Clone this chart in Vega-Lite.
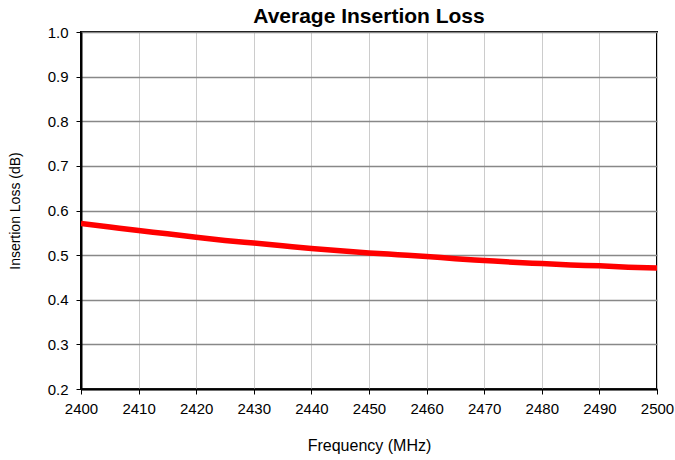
{
  "$schema": "https://vega.github.io/schema/vega-lite/v6.json",
  "width": 576,
  "height": 357,
  "autosize": {"type": "none"},
  "padding": {"left": 81, "top": 32, "right": 18, "bottom": 71},
  "background": "white",
  "title": {
    "text": "Average Insertion Loss",
    "font": "Liberation Sans",
    "fontSize": 21,
    "fontWeight": "bold",
    "color": "black",
    "offset": -2,
    "anchor": "middle"
  },
  "config": {
    "view": {"stroke": "black", "strokeWidth": 2},
    "axis": {
      "labelFont": "Liberation Sans",
      "titleFont": "Liberation Sans",
      "labelFontSize": 15,
      "titleFontSize": 16,
      "labelColor": "black",
      "titleColor": "black",
      "titleFontWeight": "normal",
      "domainColor": "black",
      "domainWidth": 2,
      "tickColor": "black",
      "tickWidth": 1,
      "tickSize": 5
    }
  },
  "data": {
    "values": [
      {"f": 2400, "il": 0.571},
      {"f": 2405, "il": 0.563},
      {"f": 2410, "il": 0.555},
      {"f": 2415, "il": 0.548},
      {"f": 2420, "il": 0.540},
      {"f": 2425, "il": 0.533},
      {"f": 2430, "il": 0.527},
      {"f": 2435, "il": 0.521},
      {"f": 2440, "il": 0.515},
      {"f": 2445, "il": 0.510},
      {"f": 2450, "il": 0.505},
      {"f": 2455, "il": 0.501},
      {"f": 2460, "il": 0.497},
      {"f": 2465, "il": 0.492},
      {"f": 2470, "il": 0.488},
      {"f": 2475, "il": 0.484},
      {"f": 2480, "il": 0.481},
      {"f": 2485, "il": 0.478},
      {"f": 2490, "il": 0.476},
      {"f": 2495, "il": 0.473},
      {"f": 2500, "il": 0.471}
    ]
  },
  "mark": {"type": "line", "color": "#ff0000", "strokeWidth": 5.5, "interpolate": "monotone", "clip": true},
  "encoding": {
    "x": {
      "field": "f",
      "type": "quantitative",
      "title": "Frequency (MHz)",
      "scale": {"domain": [2400, 2500], "nice": false, "zero": false},
      "axis": {
        "values": [2400, 2410, 2420, 2430, 2440, 2450, 2460, 2470, 2480, 2490, 2500],
        "format": "d",
        "grid": true,
        "gridColor": "#cccccc",
        "gridWidth": 1,
        "gridOpacity": 1,
        "labelPadding": 7,
        "titlePadding": 21,
        "labelFlush": false
      }
    },
    "y": {
      "field": "il",
      "type": "quantitative",
      "title": "Insertion Loss (dB)",
      "scale": {"domain": [0.2, 1.0], "nice": false, "zero": false},
      "axis": {
        "values": [0.2, 0.3, 0.4, 0.5, 0.6, 0.7, 0.8, 0.9, 1.0],
        "format": ".1f",
        "grid": true,
        "gridColor": "#888888",
        "gridWidth": 1.5,
        "gridOpacity": 1,
        "labelPadding": 8,
        "titlePadding": 25,
        "titleFontSize": 14,
        "labelFlush": false
      }
    }
  }
}
